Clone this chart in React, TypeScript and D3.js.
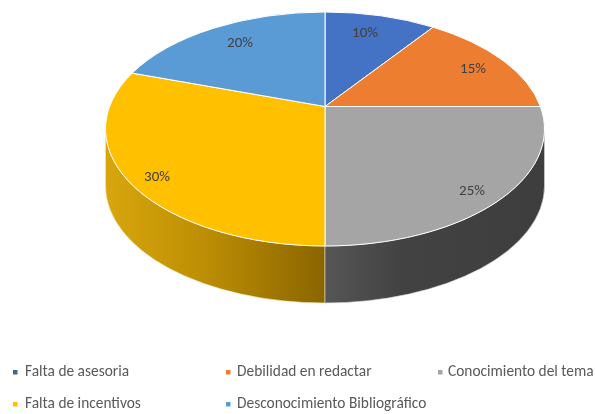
import React from "react";
import * as d3 from "d3";

const categories = ["Falta de asesoria", "Debilidad en redactar", "Conocimiento del tema", "Falta de incentivos", "Desconocimiento Bibliográfico"];
const values = [10, 15, 25, 30, 20];
const colors = ["#4472c4", "#ed7d31", "#a5a5a5", "#ffc000", "#5b9bd5"];
const legendMarks = ["#44648c", "#ed7d31", "#a5a5a5", "#ffc000", "#5b9bd5"];
const labelPos: [number, number][] = [[365, 33], [473, 69], [472, 191], [157, 177], [240, 43]];
const legendPos: [number, number][] = [[15, 372], [228, 372], [440, 372], [15, 404], [228, 404]];

const cx = 325, cy = 129, rx = 219.5, ry = 117, apexY = 106.5, depth = 57;

// Ray from the tilted pie's apex in the direction of a pie angle, cut against the top ellipse
function rim(theta: number): [number, number] {
  const dx = Math.sin(theta), dy = -Math.cos(theta);
  const py = (apexY - cy) / ry;
  const b = py * dy, c = py * py - 1;
  const t = -b + Math.sqrt(b * b - c);
  return [cx + rx * dx * t, cy + ry * (py + dy * t)];
}

export default function App() {
  const arcs = d3.pie<number>().sort(null)(values);
  const side = (x0: number, x1: number) => {
    const y0 = cy + (x0 === cx ? ry : 0), y1 = cy + (x1 === cx ? ry : 0);
    const sweep = x0 > x1 ? 1 : 0;
    return `M${x0},${y0}A${rx},${ry} 0 0 ${sweep} ${x1},${y1}L${x1},${y1 + depth}A${rx},${ry} 0 0 ${1 - sweep} ${x0},${y0 + depth}Z`;
  };
  return (
    <svg width={595} height={414} style={{ position: "absolute", left: 0, top: 0, filter: "blur(0.7px)" }} fontFamily="Carlito, Lato, 'Open Sans', sans-serif">
      <defs>
        <linearGradient id="wallY" x1="0" x2="1" y1="0" y2="0">
          <stop offset="0" stopColor="#d8a60c" />
          <stop offset="0.45" stopColor="#bd8e04" />
          <stop offset="1" stopColor="#8a6500" />
        </linearGradient>
        <linearGradient id="wallG" x1="0" x2="1" y1="0" y2="0">
          <stop offset="0" stopColor="#565656" />
          <stop offset="0.35" stopColor="#424242" />
          <stop offset="1" stopColor="#3e3e3e" />
        </linearGradient>
      </defs>
      <rect width={595} height={414} fill="#fff" />
      <path d={side(cx - rx, cx)} fill="url(#wallY)" stroke="#f5e6c0" strokeWidth={0.6} />
      <path d={side(cx + rx, cx)} fill="url(#wallG)" stroke="#d8d8d8" strokeWidth={0.6} />
      {arcs.map((a, i) => {
        const [x0, y0] = rim(a.startAngle);
        const [x1, y1] = rim(a.endAngle);
        const large = a.endAngle - a.startAngle > Math.PI ? 1 : 0;
        return (
          <path
            key={i}
            d={`M${cx},${apexY}L${x0},${y0}A${rx},${ry} 0 ${large} 1 ${x1},${y1}Z`}
            fill={colors[i]}
            stroke="#fff"
            strokeWidth={1}
            strokeLinejoin="round"
          />
        );
      })}
      {arcs.map((a, i) => (
        <text key={i} x={labelPos[i][0]} y={labelPos[i][1]} textAnchor="middle" dominantBaseline="middle" fontSize={15} fill="#404040">
          {`${a.data}%`}
        </text>
      ))}
      {categories.map((c, i) => (
        <g key={c}>
          <rect x={legendPos[i][0] - 2} y={legendPos[i][1] - 2} width={4.5} height={4.5} fill={legendMarks[i]} />
          <text x={legendPos[i][0] + (i === 2 ? 8 : i === 0 || i === 3 ? 10 : 9)} y={legendPos[i][1]} dominantBaseline="middle" fontSize={15.4} fill="#595959">
            {c}
          </text>
        </g>
      ))}
    </svg>
  );
}
